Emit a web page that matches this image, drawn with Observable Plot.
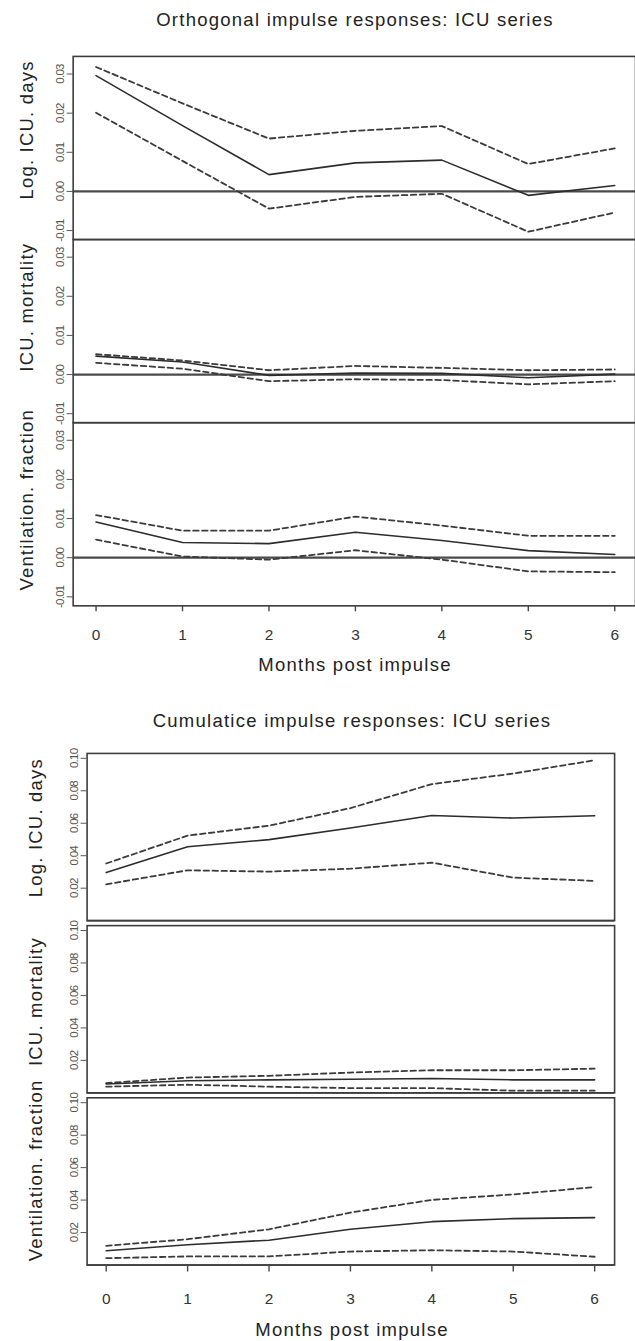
<!DOCTYPE html>
<html><head><meta charset="utf-8">
<script src="https://cdn.jsdelivr.net/npm/d3@7"></script>
<script src="https://cdn.jsdelivr.net/npm/@observablehq/plot@0.6"></script>
<style>
html,body{margin:0;padding:0;background:#fff;overflow:hidden;width:635px;height:1341px;}
#root{position:relative;width:635px;height:1341px;overflow:hidden;font-family:"Liberation Sans",Arial,Helvetica,sans-serif;}
.t{position:absolute;text-align:center;color:#222;font-size:18.5px;letter-spacing:1.25px;line-height:22px;white-space:nowrap;}
.chart{position:absolute;left:0;}
</style></head><body><div id="root"></div>
<script>
// ---------- data ----------
const months = [0, 1, 2, 3, 4, 5, 6];
const panels = ["Log. ICU. days", "ICU. mortality", "Ventilation. fraction"];
const titleTop = "Orthogonal impulse responses: ICU series";
const titleBottom = "Cumulatice impulse responses: ICU series";
const xLabel = "Months post impulse";

// Orthogonal impulse responses (irf, upper, lower)
const orthLogIcuIrf   = [0.0296, 0.0168, 0.0043, 0.0073, 0.0080, -0.0010, 0.0015];
const orthLogIcuUpper = [0.0318, 0.0225, 0.0135, 0.0155, 0.0167, 0.0070, 0.0110];
const orthLogIcuLower = [0.0201, 0.0078, -0.0044, -0.0014, -0.0006, -0.0103, -0.0054];
const orthMortIrf     = [0.0047, 0.0032, -0.0002, 0.0004, 0.0003, -0.0008, 0.0001];
const orthMortUpper   = [0.0052, 0.0036, 0.0011, 0.0022, 0.0017, 0.0011, 0.0013];
const orthMortLower   = [0.0030, 0.0015, -0.0017, -0.0012, -0.0014, -0.0025, -0.0017];
const orthVentIrf     = [0.0091, 0.0039, 0.0036, 0.0065, 0.0044, 0.0018, 0.0008];
const orthVentUpper   = [0.0109, 0.0069, 0.0069, 0.0105, 0.0082, 0.0056, 0.0056];
const orthVentLower   = [0.0046, 0.0003, -0.0005, 0.0019, -0.0005, -0.0035, -0.0037];

// Cumulative impulse responses (irf, upper, lower)
const cumLogIcuIrf    = [0.0296, 0.0455, 0.0499, 0.0571, 0.0648, 0.0632, 0.0646];
const cumLogIcuUpper  = [0.0352, 0.0524, 0.0585, 0.0693, 0.0841, 0.0906, 0.0988];
const cumLogIcuLower  = [0.0224, 0.0310, 0.0302, 0.0320, 0.0357, 0.0265, 0.0245];
const cumMortIrf      = [0.0054, 0.0074, 0.0080, 0.0084, 0.0088, 0.0080, 0.0080];
const cumMortUpper    = [0.0060, 0.0094, 0.0105, 0.0125, 0.0139, 0.0139, 0.0149];
const cumMortLower    = [0.0038, 0.0050, 0.0038, 0.0029, 0.0029, 0.0013, 0.0013];
const cumVentIrf      = [0.0088, 0.0125, 0.0153, 0.0220, 0.0267, 0.0286, 0.0292];
const cumVentUpper    = [0.0118, 0.0159, 0.0220, 0.0323, 0.0401, 0.0435, 0.0480];
const cumVentLower    = [0.0042, 0.0053, 0.0053, 0.0083, 0.0091, 0.0083, 0.0051];

const orthTicks = [-0.01, 0.00, 0.01, 0.02, 0.03];
const cumTicks  = [0.02, 0.04, 0.06, 0.08, 0.10];

// ---------- helpers ----------
function rows(panel, values) { return months.map((m, i) => ({panel, month: m, value: values[i]})); }

function makeChart(cfg) {
  const irf = [...rows(panels[0], cfg.irf[0]), ...rows(panels[1], cfg.irf[1]), ...rows(panels[2], cfg.irf[2])];
  const up  = [...rows(panels[0], cfg.up[0]),  ...rows(panels[1], cfg.up[1]),  ...rows(panels[2], cfg.up[2])];
  const lo  = [...rows(panels[0], cfg.lo[0]),  ...rows(panels[1], cfg.lo[1]),  ...rows(panels[2], cfg.lo[2])];
  const labs = panels.map((p, i) => ({panel: p, pos: cfg.labelPos[i]}));
  const dash = {x: "month", y: "value", fy: "panel", stroke: "#3a3a3a", strokeWidth: 1.8, strokeDasharray: "5.5,3.5"};
  const svg = Plot.plot({
    width: 638, height: cfg.height,
    marginTop: cfg.marginTop, marginBottom: cfg.marginBottom,
    marginLeft: cfg.marginLeft, marginRight: cfg.marginRight,
    style: {fontFamily: '"Liberation Sans", Arial, Helvetica, sans-serif', color: "#333", background: "white", overflow: "visible"},
    x: {domain: cfg.xDomain},
    y: {domain: cfg.yDomain},
    fy: {domain: panels, paddingInner: cfg.pad, paddingOuter: 0, axis: null},
    marks: [
      Plot.ruleY([0], {stroke: "#4a4a4a", strokeWidth: cfg.zeroWidth}),
      Plot.line(up, dash),
      Plot.line(lo, dash),
      Plot.line(irf, {x: "month", y: "value", fy: "panel", stroke: "#2c2c2c", strokeWidth: 1.6}),
      Plot.frame({stroke: "#3c3c3c", strokeWidth: 1.6}),
      Plot.axisY({ticks: cfg.yTicks, tickSize: 6, tickRotate: -90, tickFormat: d => d.toFixed(2), fontSize: 11.5, fill: "#555", stroke: "#555", label: null}),
      Plot.axisX({ticks: months, tickSize: cfg.xTickSize, tickPadding: cfg.xTickPad, tickFormat: d => String(d), fontSize: 15.5, fill: "#333", stroke: "#444", strokeWidth: 1.4, label: null}),
      Plot.text(labs, {fy: "panel", y: "pos", text: "panel", frameAnchor: "left", textAnchor: "middle", lineAnchor: "middle", dx: cfg.labelDx, rotate: -90, fontSize: 18.5, fill: "#222"})
    ]
  });
  svg.querySelectorAll('g[aria-label="y-axis tick label"]').forEach(g => g.style.letterSpacing = "-0.7px");
  svg.querySelectorAll('g[aria-label="text"]').forEach(g => g.style.letterSpacing = "1.25px");
  const wrap = document.createElement("div");
  wrap.className = "chart";
  wrap.style.top = cfg.top + "px";
  wrap.appendChild(svg);
  return wrap;
}

function addText(txt, cx, cy) {
  const d = document.createElement("div");
  d.className = "t";
  d.textContent = txt;
  d.style.left = (cx - 300) + "px";
  d.style.width = "600px";
  d.style.top = (cy - 11) + "px";
  root.appendChild(d);
}

const root = document.getElementById("root");

addText(titleTop, 355, 20);
root.appendChild(makeChart({
  top: 40, height: 640, marginTop: 15, marginBottom: 72, marginLeft: 73, marginRight: 0,
  xDomain: [-0.265, 6.24], yDomain: [-0.0123, 0.0345], pad: 0, yTicks: orthTicks,
  irf: [orthLogIcuIrf, orthMortIrf, orthVentIrf],
  up: [orthLogIcuUpper, orthMortUpper, orthVentUpper],
  lo: [orthLogIcuLower, orthMortLower, orthVentLower],
  labelPos: [0.0157, 0.0172, 0.0148], labelDx: -46, zeroWidth: 2.2,
  xTickSize: 6, xTickPad: 17
}));
addText(xLabel, 355, 665);

addText(titleBottom, 352, 721);
root.appendChild(makeChart({
  top: 740, height: 600, marginTop: 13, marginBottom: 72.5, marginLeft: 87, marginRight: 21,
  xDomain: [-0.235, 6.245], yDomain: [0, 0.103], pad: 0.029, yTicks: cumTicks,
  irf: [cumLogIcuIrf, cumMortIrf, cumVentIrf],
  up: [cumLogIcuUpper, cumMortUpper, cumVentUpper],
  lo: [cumLogIcuLower, cumMortLower, cumVentLower],
  labelPos: [0.0573, 0.0562, 0.0583], labelDx: -51, zeroWidth: 1.6,
  xTickSize: 7, xTickPad: 21
}));
addText(xLabel, 352, 1330);
</script>
</body></html>
